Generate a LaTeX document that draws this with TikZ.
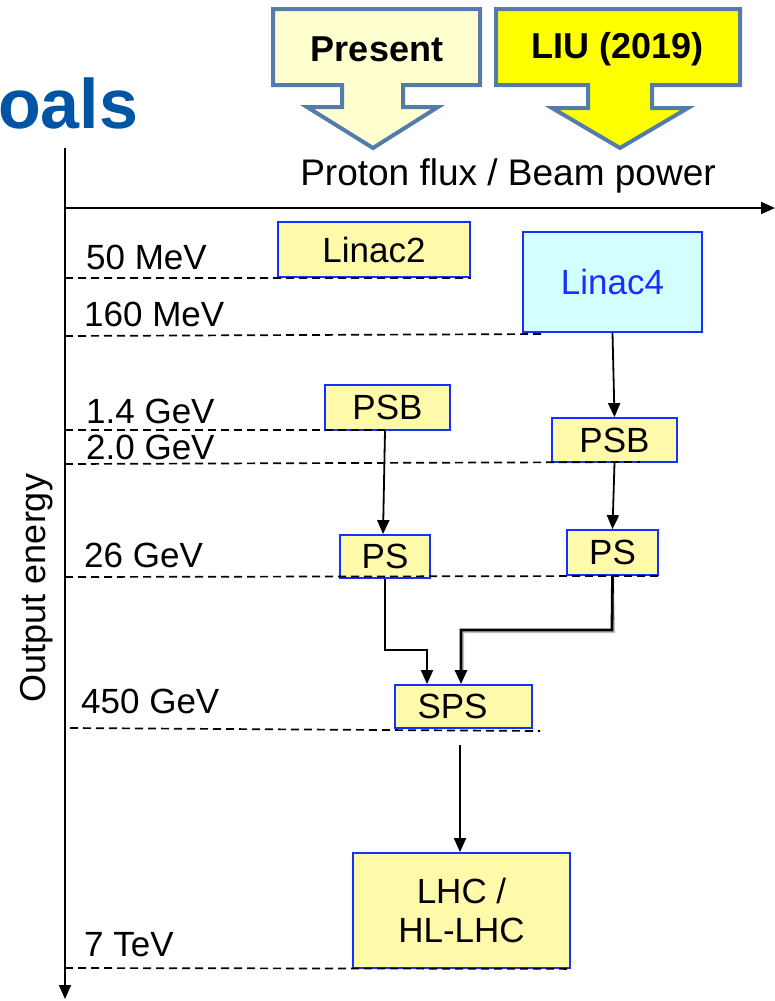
\documentclass[tikz,border=0pt]{standalone}
\usepackage{fontspec}
\setmainfont{Liberation Sans}
\usetikzlibrary{arrows.meta}
\definecolor{titleblue}{RGB}{0,84,164}
\definecolor{callborder}{RGB}{84,124,170}
\definecolor{callpale}{RGB}{255,255,208}
\definecolor{callyellow}{RGB}{255,255,0}
\definecolor{boxfill}{RGB}{255,250,170}
\definecolor{cyanfill}{RGB}{212,255,255}
\definecolor{boxblue}{RGB}{20,50,255}
\tikzset{
  lbl/.style={font=\fontsize{35}{38}\selectfont, inner sep=0pt, anchor=west},
  acc/.style={draw=boxblue, line width=1.8pt, fill=boxfill, inner sep=0pt,
              font=\fontsize{35}{39}\selectfont},
  eline/.style={dashed, dash pattern=on 8pt off 5pt, line width=1.7pt},
  flow/.style={line width=1.8pt, -{Triangle[length=14pt,width=12pt]}},
  callout/.style={draw=callborder, line width=4pt, line join=miter},
  calltext/.style={font=\fontsize{36}{40}\selectfont\bfseries, inner sep=0pt}
}
\begin{document}
\begin{tikzpicture}[x=1pt,y=-1pt]
\useasboundingbox (0,0) rectangle (775,1001);
% title fragment
\node[font=\fontsize{70}{76}\selectfont\bfseries, text=titleblue, anchor=base west, inner sep=0pt] (title) at (-2,128) {oals};
% callouts
\draw[callout, fill=callpale] (273,9) -- (480,9) -- (480,85) -- (403,85) -- (403,107) -- (438,107) -- (373,148) -- (307,107) -- (342,107) -- (342,85) -- (273,85) -- cycle;
\node[calltext] (present) at (377,49) {Present};
\draw[callout, fill=callyellow] (496,9) -- (740,9) -- (740,85) -- (652,85) -- (652,108) -- (688,108) -- (620,148) -- (552,108) -- (588,108) -- (588,85) -- (496,85) -- cycle;
\node[calltext] (liu) at (618,49) {LIU (2019)};
% axes
\coordinate (origin) at (65,208);
\coordinate (xend) at (775,208);
\coordinate (ytop) at (65,148);
\coordinate (yend) at (65,999);
\draw[line width=1.8pt, -{Triangle[length=14pt,width=12pt]}] (origin) -- (xend);
\draw[line width=1.8pt, -{Triangle[length=14pt,width=12pt]}] (ytop) -- (yend);
\node[font=\fontsize{37}{40}\selectfont, inner sep=0pt] (xlabel) at (508,176) {Proton flux / Beam power};
\node[font=\fontsize{36}{40}\selectfont, inner sep=0pt, rotate=90] (ylabel) at (37,588) {Output energy};
% energy lines
\node[lbl] (e50) at (86,257) {50 MeV};
\node[lbl] (e160) at (84,314) {160 MeV};
\node[lbl] (e14) at (86,411) {1.4 GeV};
\node[lbl] (e20) at (86,447) {2.0 GeV};
\node[lbl] (e26) at (84,555) {26 GeV};
\node[lbl] (e450) at (81,701) {450 GeV};
\node[lbl] (e7) at (84,945) {7 TeV};
% accelerators
\node[acc, minimum width=192pt, minimum height=55pt] (linac2) at (374,249.5) {Linac2};
\node[acc, fill=cyanfill, text=boxblue, minimum width=179pt, minimum height=100pt] (linac4) at (612.5,282) {Linac4};
\node[acc, minimum width=125pt, minimum height=45pt] (psbL) at (387.5,407.5) {PSB};
\node[acc, minimum width=125pt, minimum height=44pt] (psbR) at (614.5,440) {PSB};
\node[acc, minimum width=90pt, minimum height=43pt] (psL) at (385,556.5) {PS};
\node[acc, minimum width=91pt, minimum height=45pt] (psR) at (612.5,552.5) {PS};
\node[acc, minimum width=137pt, minimum height=43pt, text width=120pt, align=left] (sps) at (463.5,706.5) {\hspace*{14pt}SPS};
\node[acc, minimum width=217pt, minimum height=115pt, align=center] (lhc) at (461.5,910.5) {LHC /\\HL-LHC};
% dashed energy levels
\draw[eline] (65,278) -- (linac2.south east);
\draw[eline] (65,336) -- (545,334);
\draw[eline] (65,430) -- (385,430);
\draw[eline] (65,464) -- (640,462);
\draw[eline] (65,577) -- (psR.south east);
\draw[eline] (70,728) -- (540,731);
\draw[eline] (65,968) -- (lhc.south east);
% flows
\draw[flow] (linac4.south) -- (psbR.north);
\draw[flow] (psbL.south -| 385,0) -- (psL.north -| 383,0);
\draw[flow] (psbR.south) -- (psR.north);
\draw[line width=1.8pt, -{Triangle[length=14pt,width=12pt]}] (psL.south) -- (385,650) -- (427,650) -- (sps.north -| 427,0);
\draw[line width=3pt, black!25, shift={(1.5,1.5)}] (psR.south) -- (612,630) -- (461,630) -- (461,670);
\draw[line width=2.8pt, -{Triangle[length=14pt,width=12pt]}, line join=miter] (psR.south) -- (612,630) -- (461,630) -- (sps.north -| 461,0);
\coordinate (spsout) at (460,745);
\draw[flow] (spsout) -- (lhc.north -| 460,0);
\end{tikzpicture}
\end{document}
